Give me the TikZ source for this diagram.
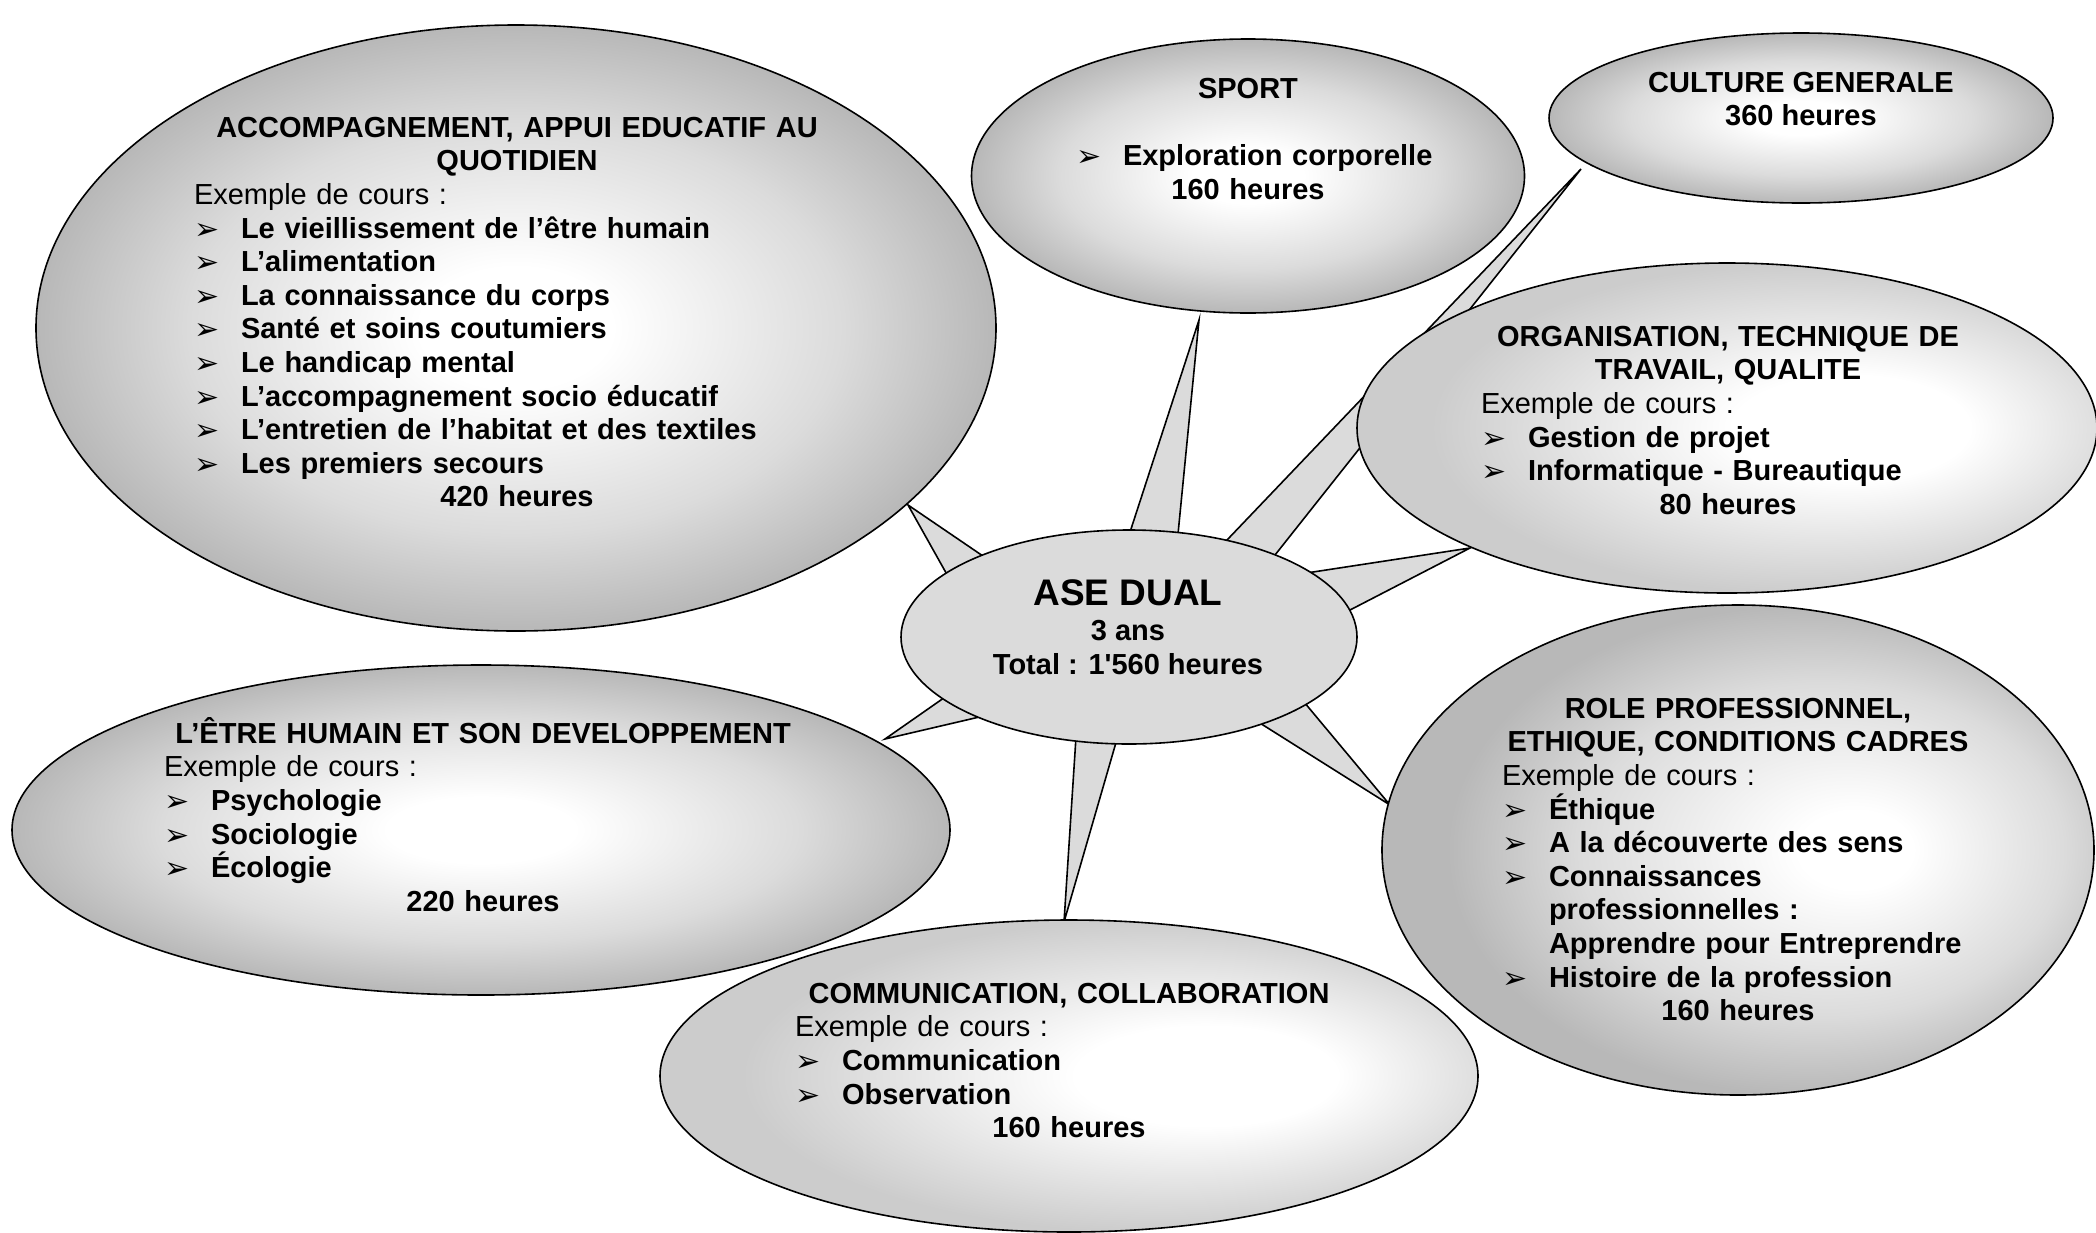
\documentclass[tikz,border=0pt]{standalone}
\usepackage{fontspec}
\setmainfont{Liberation Sans}
\newfontfamily\dejavu{DejaVu Sans}
\usetikzlibrary{shapes.geometric,calc}

\definecolor{hubgray}{gray}{0.86}
\definecolor{edgedark}{gray}{0.72}
\definecolor{middark}{gray}{0.86}
\definecolor{edgelight}{gray}{0.80}

% bubble gradients
\pgfdeclareradialshading{bubbledark}{\pgfpoint{0bp}{0bp}}{color(0bp)=(white); color(5bp)=(white); color(17bp)=(middark); color(25bp)=(edgedark); color(50bp)=(edgedark)}
\pgfdeclareradialshading{bubbleside}{\pgfpoint{9bp}{0bp}}{color(0bp)=(white); color(4bp)=(white); color(17bp)=(middark); color(25bp)=(edgedark); color(50bp)=(edgedark)}
\pgfdeclareradialshading{bubblelight}{\pgfpoint{10bp}{0bp}}{color(0bp)=(white); color(8bp)=(white); color(25bp)=(edgelight); color(50bp)=(edgelight)}

\newcommand{\bubtext}{\fontsize{29}{33.6}\selectfont\bfseries}
\newcommand{\firstline}{\rule{0pt}{30pt}}
\newcommand{\ctr}[1]{\makebox[\hsize][c]{#1}}
\newcommand{\puce}{\makebox[47pt][l]{\raisebox{-1pt}{\dejavu\fontsize{30}{30}\selectfont ➢}}}
\newcommand{\itm}[1]{\mbox{\puce#1}}
\newcommand{\exemple}{{\mdseries Exemple de cours :}}

\begin{document}
\begin{tikzpicture}[x=1pt, y=-1pt,
    bubble/.style={ellipse, draw, line width=1.6pt, inner sep=0pt, shade},
    hub/.style={ellipse, draw, fill=hubgray, line width=1.6pt, inner sep=0pt},
    spike/.style={draw, fill=hubgray, line width=1.6pt},
    txt/.style={anchor=north, inner sep=0pt, align=left, font=\bubtext}]
    \useasboundingbox (0,0) rectangle (2096,1232);

    % Spikes from the hub out to every bubble
    \foreach \name/\tip/\left/\right in {
        acc/{908,505}/{945,571}/{980,554},
        sport/{1199,320}/{1131,529}/{1178,534},
        cult/{1581,169}/{1227,540}/{1275,555},
        org/{1470,548}/{1313,572}/{1350,610},
        role/{1390,805}/{1263,725}/{1309,708},
        comm/{1064,922}/{1076,737}/{1117,739},
        etre/{885,739}/{938,702}/{975,718}}{
        \coordinate (\name-tip) at (\tip);
        \coordinate (\name-l) at (\left);
        \coordinate (\name-r) at (\right);
        \draw[spike] (\name-tip) -- ($(\name-tip)!1.25!(\name-l)$) -- ($(\name-tip)!1.25!(\name-r)$) -- cycle;
    }

    % Bubbles
    \node[bubble, shading=bubbledark, minimum width=960pt, minimum height=606pt] (acc) at (516,328) {};
    \node[bubble, shading=bubbledark, minimum width=553pt, minimum height=274pt] (sport) at (1248,176) {};
    \node[bubble, shading=bubbledark, minimum width=504pt, minimum height=170pt] (cult) at (1801,118) {};
    \node[bubble, shading=bubblelight, minimum width=740pt, minimum height=330pt] (org) at (1727,428) {};
    \node[bubble, shading=bubbledark, minimum width=938pt, minimum height=330pt] (etre) at (481,830) {};
    \node[bubble, shading=bubbleside, minimum width=712pt, minimum height=490pt] (role) at (1738,850) {};
    \node[bubble, shading=bubblelight, minimum width=818pt, minimum height=312pt] (comm) at (1069,1076) {};

    % Hub
    \node[hub, minimum width=456pt, minimum height=214pt] (ase) at (1129,637) {};
    \node[anchor=north, inner sep=0pt, align=center, font=\bubtext] (ase-txt) at (1128,575)
        {\firstline{\fontsize{37}{40}\selectfont ASE DUAL}\\[2pt] 3 ans\\ Total : 1\textquotesingle560 heures};

    % Texts
    \node[txt, text width=646pt] (acc-txt) at (517,107) {\firstline\ctr{ACCOMPAGNEMENT, APPUI EDUCATIF AU}\\
        \ctr{QUOTIDIEN}\\
        \exemple\\
        \itm{Le vieillissement de l’être humain}\\
        \itm{L’alimentation}\\
        \itm{La connaissance du corps}\\
        \itm{Santé et soins coutumiers}\\
        \itm{Le handicap mental}\\
        \itm{L’accompagnement socio éducatif}\\
        \itm{L’entretien de l’habitat et des textiles}\\
        \itm{Les premiers secours}\\
        \ctr{420 heures}};
    \node[txt, text width=344pt] (sport-txt) at (1248,68) {\firstline\ctr{SPORT}\\[33.6pt]
        \itm{Exploration corporelle}\\
        \ctr{160 heures}};
    \node[anchor=north, inner sep=0pt, align=center, font=\bubtext] (cult-txt) at (1801,62)
        {\firstline CULTURE GENERALE\\ 360 heures};
    \node[txt, text width=494pt] (org-txt) at (1728,316) {\firstline\ctr{ORGANISATION, TECHNIQUE DE}\\
        \ctr{TRAVAIL, QUALITE}\\
        \exemple\\
        \itm{Gestion de projet}\\
        \itm{Informatique - Bureautique}\\
        \ctr{80 heures}};
    \node[txt, text width=638pt] (etre-txt) at (483,713) {\firstline\ctr{L’ÊTRE HUMAIN ET SON DEVELOPPEMENT}\\
        \exemple\\
        \itm{Psychologie}\\
        \itm{Sociologie}\\
        \itm{Écologie}\\
        \ctr{220 heures}};
    \node[txt, text width=548pt] (comm-txt) at (1069,973) {\firstline\ctr{COMMUNICATION, COLLABORATION}\\
        \exemple\\
        \itm{Communication}\\
        \itm{Observation}\\
        \ctr{160 heures}};
    \node[txt, text width=472pt] (role-txt) at (1738,688) {\firstline\ctr{ROLE PROFESSIONNEL,}\\
        \ctr{ETHIQUE, CONDITIONS CADRES}\\
        \exemple\\
        \itm{Éthique}\\
        \itm{A la découverte des sens}\\
        \itm{Connaissances}\\
        \mbox{\hspace*{47pt}professionnelles :}\\
        \mbox{\hspace*{47pt}Apprendre pour Entreprendre}\\
        \itm{Histoire de la profession}\\
        \ctr{160 heures}};
\end{tikzpicture}
\end{document}
